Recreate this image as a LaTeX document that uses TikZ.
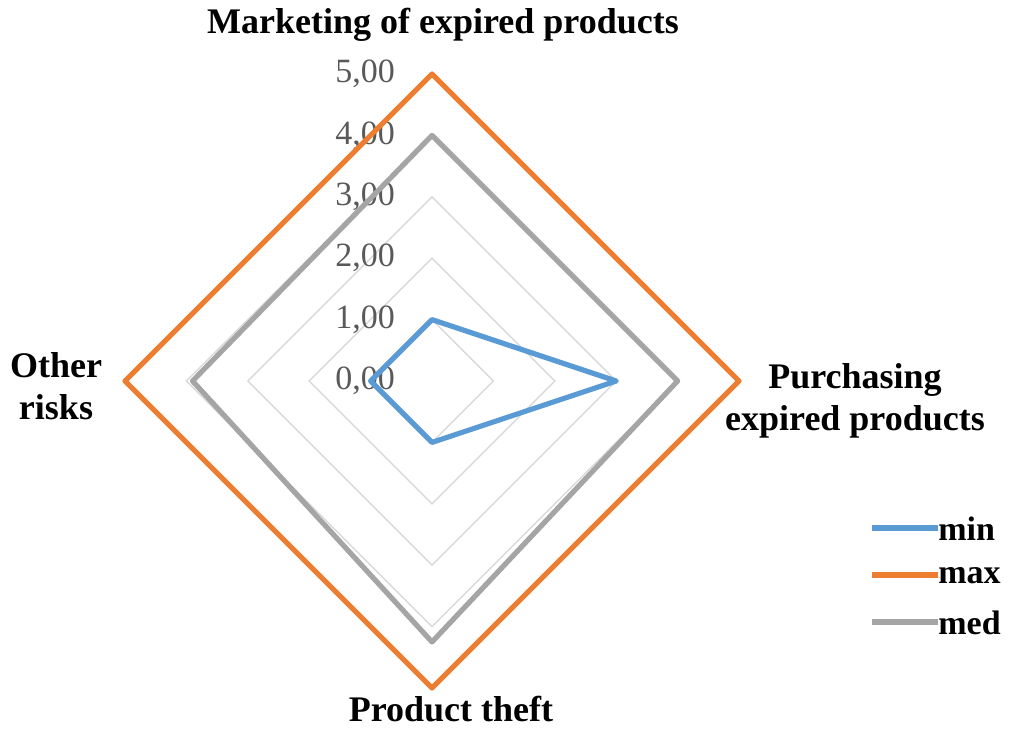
\documentclass[tikz,border=0pt]{standalone}
\usepackage{fontspec}
\setmainfont{Liberation Serif}
\usetikzlibrary{positioning}
\definecolor{minblue}{HTML}{5B9BD5}
\definecolor{maxorange}{HTML}{ED7D31}
\definecolor{medgray}{HTML}{A5A5A5}
\definecolor{gridgray}{HTML}{D9D9D9}
\definecolor{ticktext}{HTML}{595959}

\begin{document}
\begin{tikzpicture}[x=0.5pt,y=0.5pt,
    cat/.style={font=\fontsize{18}{21}\selectfont\bfseries,align=center,inner sep=0pt},
    ticklbl/.style={font=\fontsize{17}{20}\selectfont,text=ticktext,inner sep=0pt,anchor=east},
    legtext/.style={font=\fontsize{17}{20}\selectfont\bfseries,inner sep=0pt,anchor=west},
    series/.style={line width=2.6pt,line join=round},
    gridline/.style={gridgray,line width=0.7pt}]
  \useasboundingbox (0,0) rectangle (1010,730);

  \begin{scope}[shift={(432,349)},x=30.7pt,y=30.7pt]
    \foreach \k in {1,...,5}
      \draw[gridline] (90:\k) -- (0:\k) -- (-90:\k) -- (180:\k) -- cycle;
    \foreach \k in {0,...,5}
      \node[ticklbl] (t\k) at (-0.6,\k) {\k,00};
    \draw[series,maxorange] (90:5) -- (0:5) -- (-90:5) -- (180:5) -- cycle;
    \draw[series,medgray] (90:4) -- (0:4) -- (-90:4.25) -- (180:3.9) -- cycle;
    \draw[series,minblue] (90:1) -- (0:3) -- (-90:1) -- (180:1) -- cycle;
  \end{scope}

  \node[cat] (mkt) at (443,705) {Marketing of expired products};
  \node[cat] (pur) at (855,329) {Purchasing\\expired products};
  \node[cat] (oth) at (56,344) {Other\\risks};
  \node[cat] (thf) at (451,21) {Product theft};

  \node[legtext] (lmin) at (938,201) {min};
  \node[legtext] (lmax) at (938,154) {max};
  \node[legtext] (lmed) at (938,107) {med};
  \coordinate (smin) at (872,202);
  \coordinate (smax) at (872,155);
  \coordinate (smed) at (872,108);
  \draw[series,minblue] (smin) -- (lmin.west |- smin);
  \draw[series,maxorange] (smax) -- (lmax.west |- smax);
  \draw[series,medgray] (smed) -- (lmed.west |- smed);
\end{tikzpicture}
\end{document}
